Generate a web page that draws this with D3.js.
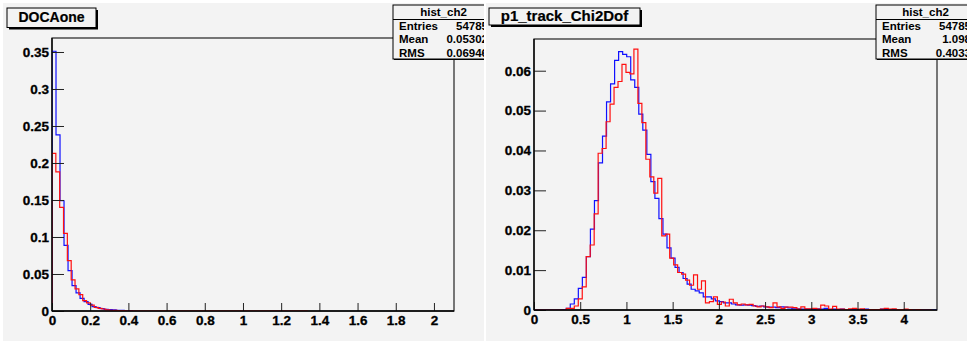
<!DOCTYPE html>
<html>
<head>
<meta charset="utf-8">
<script src="https://cdn.jsdelivr.net/npm/d3@7"></script>
<style>
body{margin:0;background:#fff;}
svg{display:block;}
text{font-family:"Liberation Sans",Arial,Helvetica,sans-serif;}
</style>
</head>
<body>
<div id="chart"></div>
<script>
let doca_title = "DOCAone";
let doca_stats = [["Entries","54785"],["Mean","0.05302"],["RMS","0.06946"]];
let doca_x_ticks = [0,0.2,0.4,0.6,0.8,1,1.2,1.4,1.6,1.8,2];
let doca_x_labels = ["0","0.2","0.4","0.6","0.8","1","1.2","1.4","1.6","1.8","2"];
let doca_y_ticks = [0,0.05,0.1,0.15,0.2,0.25,0.3,0.35];
let doca_y_labels = ["0","0.05","0.1","0.15","0.2","0.25","0.3","0.35"];
let doca_blue_width = 0.021;
let doca_blue = [0.351,0.238,0.149,0.0888,0.0545,0.0342,0.0245,0.0171,0.0126,0.009,
                 0.0059,0.0045,0.0032,0.0023,0.0018,0.0014,0.001,0.0008,0.0006,0.0004];
let doca_red_width = 0.0201;
let doca_red = [0.213,0.188,0.140,0.105,0.068,0.042,0.030,0.022,0.014,0.011,
                0.008,0.005,0.0035,0.0027,0.0015,0.001,0.0008,0.0005,0.0004,0.0003,0.0002];
let doca_red_end = 1.34;

let chi2_title = "p1_track_Chi2Dof";
let chi2_stats = [["Entries","54785"],["Mean","1.098"],["RMS","0.4033"]];
let chi2_x_ticks = [0,0.5,1,1.5,2,2.5,3,3.5,4];
let chi2_x_labels = ["0","0.5","1","1.5","2","2.5","3","3.5","4"];
let chi2_y_ticks = [0,0.01,0.02,0.03,0.04,0.05,0.06];
let chi2_y_labels = ["0","0.01","0.02","0.03","0.04","0.05","0.06"];
let chi2_blue_width = 0.0436;
let chi2_blue = [0,0,0,0,0,0,0,0.0001,0.0004,0.0015,
  0.0028,0.0054,0.0082,0.0134,0.0203,0.0274,0.0369,0.0436,0.0522,0.0567,
  0.0626,0.0648,0.0641,0.0635,0.0577,0.0558,0.0491,0.0451,0.039,0.0322,
  0.028,0.0229,0.019,0.0156,0.013,0.0107,0.0094,0.0079,0.0065,0.0052,
  0.0048,0.0043,0.0033,0.0033,0.0028,0.0023,0.0021,0.0018,0.0018,0.0015,
  0.0013,0.0012,0.0013,0.0012,0.0011,0.0009,0.001,0.0008,0.0007,0.0007,
  0.0006,0.0008,0.0007,0.0005,0.0003,0.0003,0.0002,0.0002,0.0002,0.0001,
  0.0003,0.0002,0.0004,0.0001,0.0002,0.0001,0.0002,0.0001,0.0001,0.0002,
  0.0001,0.0001,0.0002,0.0001,0.0001,0.0001,0.0002,0.0001,0.0001,0.0001,
  0.0001,0.0001,0,0,0,0,0,0,0,0];
let chi2_red_start = 0.006;
let chi2_red_width = 0.043;
let chi2_red = [0,0,0,0,0,0,0,0,0.0004,0.0004,
  0.001,0.0028,0.0058,0.0134,0.0163,0.0241,0.0393,0.0405,0.0472,0.0516,
  0.0558,0.0573,0.0616,0.0596,0.0592,0.0654,0.0518,0.047,0.0378,0.0334,
  0.0293,0.033,0.0186,0.019,0.013,0.0113,0.0094,0.009,0.0075,0.0062,
  0.0088,0.0052,0.0073,0.0018,0.0021,0.0033,0.0014,0.002,0.001,0.0027,
  0.0018,0.0013,0.0015,0.0013,0.0014,0.001,0.0008,0.001,0.0008,0.0006,
  0.0018,0.0008,0.0004,0.0007,0.0007,0.0006,0.0002,0.0008,0.0003,0.0003,
  0.0004,0.0002,0.0012,0.001,0.0002,0.0009,0.0002,0.0002,0.0001,0.0003,
  0.0004,0.0002,0.0003,0.0001,0.0001,0.0001,0.0001,0.0002,0.0004,0.0002,
  0.0003,0.0001,0.0001,0.0002,0.0001,0,0.0001,0,0,0];

let W = 967, H = 342;
let bg = "#f3f3f3";
let fam = " 'Liberation Sans', Arial, sans-serif";

let svg = d3.select("#chart").append("svg")
    .attr("width", W).attr("height", H);
svg.append("rect").attr("width", W).attr("height", H).attr("fill", "#fff");

let panels = [
  {id:"doca", canvas:[3,3,481,338], frame:[52,38,402,273], xmax:2.105, ymax:0.3689,
   xminor:0.04, yminor:0.01, xt:doca_x_ticks, xl:doca_x_labels, yt:doca_y_ticks, yl:doca_y_labels,
   title:doca_title, titleBox:[7,8,89,19.5], titleFont:"bold 14px", titleBase:22,
   stats:doca_stats, statBox:[393,5,101,54], valueRight:488,
   series:[
     {v:doca_blue, x0:0, w:doca_blue_width, end:null, color:"#1010ff"},
     {v:doca_red, x0:0, w:doca_red_width, end:doca_red_end, color:"#ff1010"}]},
  {id:"chi2", canvas:[486,3,481,338], frame:[534,39,403,271], xmax:4.36, ymax:0.06795,
   xminor:0.1, yminor:0.002, xt:chi2_x_ticks, xl:chi2_x_labels, yt:chi2_y_ticks, yl:chi2_y_labels,
   title:chi2_title, titleBox:[489,8,151,17], titleFont:"bold 15px", titleBase:21,
   stats:chi2_stats, statBox:[876,5,99,54], valueRight:971,
   series:[
     {v:chi2_blue, x0:0, w:chi2_blue_width, end:null, color:"#1010ff"},
     {v:chi2_red, x0:chi2_red_start, w:chi2_red_width, end:null, color:"#ff1010"}]}
];

panels.forEach(drawPanel);

function drawPanel(p){
  let [cx, cy, cw, ch] = p.canvas;
  let [fx, fy, fw, fh] = p.frame;

  svg.append("clipPath").attr("id", "clip_" + p.id)
    .append("rect").attr("x", cx).attr("y", cy).attr("width", cw).attr("height", ch);
  svg.append("clipPath").attr("id", "fclip_" + p.id)
    .append("rect").attr("x", fx).attr("y", fy - 1).attr("width", fw).attr("height", fh + 1);

  let g = svg.append("g").attr("clip-path", "url(#clip_" + p.id + ")");
  g.append("rect").attr("x", cx).attr("y", cy).attr("width", cw).attr("height", ch)
    .attr("fill", bg);

  let x = d3.scaleLinear().domain([0, p.xmax]).range([fx, fx + fw]);
  let y = d3.scaleLinear().domain([0, p.ymax]).range([fy + fh, fy]);

  // frame
  g.append("rect").attr("x", fx).attr("y", fy).attr("width", fw).attr("height", fh)
    .attr("fill", "none").attr("stroke", "#222").attr("stroke-width", 1.2);

  // histograms
  let hg = g.append("g").attr("clip-path", "url(#fclip_" + p.id + ")");
  let line = d3.line().x(d => x(d[0])).y(d => y(d[1]));
  p.series.forEach(s => {
    let pts = [[s.x0, 0]];
    s.v.forEach((v, i) => {
      pts.push([s.x0 + i * s.w, v]);
      pts.push([s.x0 + (i + 1) * s.w, v]);
    });
    let last = s.x0 + s.v.length * s.w;
    pts.push([last, 0]);
    if (s.end) pts.push([s.end, 0]);
    hg.append("path").attr("d", line(pts))
      .attr("fill", "none").attr("stroke", s.color).attr("stroke-width", 1.2);
  });

  // axes, ROOT style: ticks pointing into the frame
  let xMinor = d3.range(0, p.xmax + 1e-9, p.xminor);
  let yMinor = d3.range(0, p.ymax + 1e-9, p.yminor);
  let majorX = Math.round(fh * 0.03), majorY = Math.round(fw * 0.03);

  let ax = g.append("g").attr("transform", "translate(0," + (fy + fh) + ")");
  ax.call(d3.axisBottom(x).tickValues(xMinor).tickSize(-majorX / 2).tickFormat(""));
  ax.call(d3.axisBottom(x).tickValues(p.xt).tickSize(-majorX).tickPadding(4)
      .tickFormat((d, i) => p.xl[i]));
  ax.selectAll(".domain").remove();

  let ay = g.append("g").attr("transform", "translate(" + fx + ",0)");
  ay.call(d3.axisLeft(y).tickValues(yMinor).tickSize(-majorY / 2).tickFormat(""));
  ay.call(d3.axisLeft(y).tickValues(p.yt).tickSize(-majorY).tickPadding(3)
      .tickFormat((d, i) => p.yl[i]));
  ay.selectAll(".domain").remove();

  g.selectAll(".tick line").attr("stroke", "#222").attr("stroke-width", 1);
  g.selectAll(".tick text").attr("font-family", null)
    .style("font", "bold 13.5px" + fam).attr("fill", "#000")
    .attr("stroke", "#000").attr("stroke-width", 0.3);
  ax.selectAll(".tick text").attr("dy", "0.72em");

  g.append("line").attr("x1", fx).attr("x2", fx + fw).attr("y1", fy + fh).attr("y2", fy + fh)
    .attr("stroke", "#000").attr("stroke-width", 1.3);
  g.append("line").attr("x1", fx).attr("x2", fx).attr("y1", fy).attr("y2", fy + fh)
    .attr("stroke", "#000").attr("stroke-width", 1.3);

  // title box with shadow
  let [tx, ty, tw, th] = p.titleBox;
  g.append("rect").attr("x", tx + 2).attr("y", ty + 2).attr("width", tw).attr("height", th)
    .attr("fill", "#000");
  g.append("rect").attr("x", tx).attr("y", ty).attr("width", tw).attr("height", th)
    .attr("fill", bg).attr("stroke", "#000").attr("stroke-width", 1);
  g.append("text").attr("x", tx + tw / 2).attr("y", p.titleBase)
    .attr("text-anchor", "middle")
    .style("font", p.titleFont + fam)
    .attr("stroke", "#000").attr("stroke-width", 0.2)
    .text(p.title);

  // stats box
  let [sx, sy, sw, sh] = p.statBox;
  g.append("rect").attr("x", sx + 1).attr("y", sy + 1).attr("width", sw).attr("height", sh)
    .attr("fill", "#000");
  g.append("rect").attr("x", sx).attr("y", sy).attr("width", sw).attr("height", sh)
    .attr("fill", bg).attr("stroke", "#000").attr("stroke-width", 1);
  g.append("line").attr("x1", sx).attr("x2", sx + sw).attr("y1", sy + 14.5).attr("y2", sy + 14.5)
    .attr("stroke", "#000");
  let sfont = "bold 11.5px" + fam;
  g.append("text").attr("x", sx + sw / 2).attr("y", sy + 11)
    .attr("text-anchor", "middle").style("font", sfont).text("hist_ch2");
  p.stats.forEach((r, i) => {
    let by = sy + 24.5 + i * 13.7;
    g.append("text").attr("x", sx + 6).attr("y", by).style("font", sfont).text(r[0]);
    g.append("text").attr("x", p.valueRight).attr("y", by).attr("text-anchor", "end")
      .style("font", sfont).text(r[1]);
  });
}
</script>
</body>
</html>
